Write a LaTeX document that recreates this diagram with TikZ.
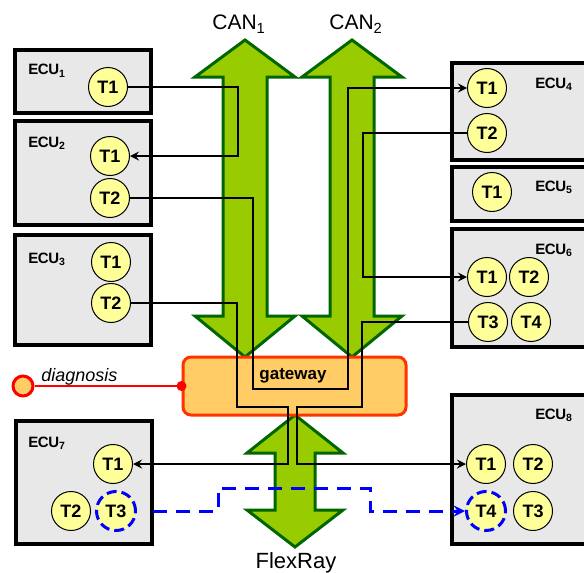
\documentclass[tikz,border=0pt]{standalone}
\usepackage{fontspec}
\setmainfont{Liberation Sans}
\newfontfamily\tightfont[LetterSpace=-3]{Liberation Sans}
\definecolor{busgreen}{HTML}{99CC00}
\definecolor{busedge}{HTML}{006600}
\definecolor{gwfill}{HTML}{FFCC66}
\definecolor{gwedge}{HTML}{FF3300}
\definecolor{taskfill}{HTML}{FFFF99}
\definecolor{ecufill}{HTML}{E8E8E8}

\begin{document}
\begin{tikzpicture}[x=0.5pt,y=-0.5pt,>=stealth,
  ecu/.style={draw=black,line width=1.6pt,fill=ecufill},
  ecuname/.style={anchor=base west,inner sep=0pt,font=\tightfont\bfseries\fontsize{7.5}{7.5}\selectfont},
  task/.style={circle,draw=black,line width=0.5pt,fill=taskfill,minimum size=19.5pt,inner sep=0pt,font=\bfseries\fontsize{9}{9}\selectfont},
  mirrortask/.style={task,draw=blue,line width=1.5pt,dash pattern=on 5pt off 2.5pt},
  bus/.style={fill=busgreen,draw=busedge,line width=1.5pt},
  busname/.style={inner sep=0pt,font=\fontsize{10.5}{10.5}\selectfont},
  link/.style={draw=black,line width=1pt},
  mirror/.style={draw=blue,line width=1.5pt,dash pattern=on 7pt off 4.5pt}]
\useasboundingbox (0,0) rectangle (584,573);
\clip (0,0) rectangle (584,573);
% buses
\draw[bus] (245,40) -- (295,77) -- (267,77) -- (267,316) -- (295,316) -- (245,357) -- (195,316) -- (223,316) -- (223,77) -- (195,77) -- cycle;
\draw[bus] (352,40) -- (402,77) -- (374,77) -- (374,316) -- (402,316) -- (352,357) -- (302,316) -- (330,316) -- (330,77) -- (302,77) -- cycle;
\draw[bus] (295,415) -- (343,453) -- (315,453) -- (315,510) -- (343,510) -- (295,547) -- (247,510) -- (275,510) -- (275,453) -- (247,453) -- cycle;
\node[busname,anchor=base west] (can1) at (212,30) {CAN\textsubscript{1}};
\node[busname,anchor=base west] (can2) at (329,30) {CAN\textsubscript{2}};
\node[busname,anchor=base,font=\fontsize{11}{11}\selectfont] (flexray) at (296,568) {FlexRay};
% gateway and diagnosis
\node[draw=gwedge,fill=gwfill,line width=1.5pt,rounded corners=4pt,minimum width=111.5pt,minimum height=29pt] (gw) at (294.5,386) {};
\node[anchor=base,inner sep=0pt,font=\bfseries\fontsize{8.5}{8.5}\selectfont] (gwname) at (293,379) {gateway};
\node[circle,draw=red,line width=1.5pt,fill=gwfill,minimum size=10pt,inner sep=0pt] (diag) at (23,386) {};
\draw[red,line width=1.2pt] (diag.east) -- (gw.west);
\node[circle,fill=red,minimum size=5pt,inner sep=0pt] (diagdot) at (gw.west) {};
\node[anchor=base west,inner sep=0pt,font=\itshape\fontsize{9}{9}\selectfont] (diagname) at (41,381) {diagnosis};
% ECUs on the left
\draw[ecu] (15,50) rectangle (151,113);
\draw[ecu] (15,121) rectangle (151,225);
\draw[ecu] (15,235) rectangle (151,345);
\draw[ecu] (16,421) rectangle (152,544);
\node[ecuname] (ecu1) at (28,75) {ECU\textsubscript{1}};
\node[ecuname] (ecu2) at (28,147) {ECU\textsubscript{2}};
\node[ecuname] (ecu3) at (28,263) {ECU\textsubscript{3}};
\node[ecuname] (ecu7) at (28,447) {ECU\textsubscript{7}};
\node[task] (e1t1) at (108,87) {T1};
\node[task] (e2t1) at (110,156) {T1};
\node[task] (e2t2) at (110,198) {T2};
\node[task] (e3t1) at (111,262) {T1};
\node[task] (e3t2) at (111,303) {T2};
\node[task] (e7t1) at (113,464) {T1};
\node[task] (e7t2) at (71,511) {T2};
\node[mirrortask] (e7t3) at (116,511) {T3};
% ECUs on the right
\draw[ecu] (452,63) rectangle (600,160);
\draw[ecu] (452,167) rectangle (600,221);
\draw[ecu] (452,229) rectangle (600,347);
\draw[ecu] (452,395) rectangle (600,544);
\node[ecuname] (ecu4) at (535,88) {ECU\textsubscript{4}};
\node[ecuname] (ecu5) at (535,191) {ECU\textsubscript{5}};
\node[ecuname] (ecu6) at (535,254) {ECU\textsubscript{6}};
\node[ecuname] (ecu8) at (535,419) {ECU\textsubscript{8}};
\node[task] (e4t1) at (487,88) {T1};
\node[task] (e4t2) at (487,133) {T2};
\node[task] (e5t1) at (492,192) {T1};
\node[task] (e6t1) at (487,277) {T1};
\node[task] (e6t2) at (529,277) {T2};
\node[task] (e6t3) at (488,322) {T3};
\node[task] (e6t4) at (531,322) {T4};
\node[task] (e8t1) at (486,464) {T1};
\node[task] (e8t2) at (533,464) {T2};
\node[mirrortask] (e8t4) at (486,511) {T4};
\node[task] (e8t3) at (533,511) {T3};
% signal paths
\draw[link,->] (e1t1.east) -- (238,87) |- (e2t1.east);
\draw[link,->] (e2t2.east) -- (253,198) -- (253,389) -- (348,389) |- (e4t1.west);
\draw[link,->] (e4t2.west) -- (363,133) |- (e6t1.west);
\draw[link,->] (e6t3.west) -- (362,322) -- (362,407) -- (297,407) |- (e8t1.west);
\draw[link,->] (e3t2.east) -- (237,303) -- (237,407) -- (288,407) |- (e7t1.east);
\draw[mirror,->,shorten <=8pt] (e7t3.east) -- (218,511) -- (218,488) -- (370,488) |- (e8t4.west);
\end{tikzpicture}
\end{document}
